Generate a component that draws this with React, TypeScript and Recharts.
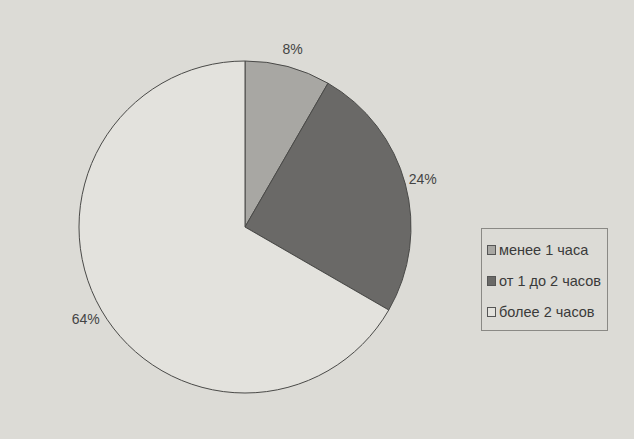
import React from 'react';
import { PieChart, Pie, Cell, Legend } from 'recharts';

const categories = ['менее 1 часа', 'от 1 до 2 часов', 'более 2 часов'];
const shares = [8, 24, 64];
const colors = ['#a8a7a3', '#6a6967', '#e3e2dd'];

const data = categories.map((name, i) => ({ name, value: shares[i] }));

const RAD = Math.PI / 180;

const renderLabel = (props: any) => {
  const { cx, cy, midAngle, outerRadius, value } = props;
  const r = outerRadius + 18;
  const x = cx + r * Math.cos(-midAngle * RAD);
  const y = cy + r * Math.sin(-midAngle * RAD);
  return (
    <text x={x} y={y} fill="#444" fontSize={14} textAnchor="middle" dominantBaseline="central">
      {value}%
    </text>
  );
};

const renderLegend = () => (
  <div
    style={{
      border: '1px solid #8a8985',
      padding: '5px 6px 3px 5px',
      fontSize: 14.5,
      color: '#3a3a3a',
      fontFamily: '"Liberation Sans", Arial, sans-serif',
      whiteSpace: 'nowrap',
    }}
  >
    {categories.map((c, i) => (
      <div key={c} style={{ display: 'flex', alignItems: 'center', height: 31 }}>
        <span
          style={{
            display: 'inline-block',
            width: 7,
            height: 8,
            background: colors[i],
            border: '1px solid #555',
            marginRight: 3,
          }}
        />
        {c}
      </div>
    ))}
  </div>
);

export default function App() {
  return (
    <div
      style={{
        position: 'absolute',
        left: 0,
        top: 0,
        width: 634,
        height: 439,
        background: '#dcdbd6',
        fontFamily: '"Liberation Sans", Arial, sans-serif',
      }}
    >
      <PieChart width={634} height={439}>
        <Pie
          data={data}
          dataKey="value"
          nameKey="name"
          cx={240}
          cy={222}
          outerRadius={166}
          startAngle={90}
          endAngle={-270}
          stroke="#4a4a48"
          strokeWidth={1}
          label={renderLabel}
          labelLine={false}
          isAnimationActive={false}
        >
          {data.map((d, i) => (
            <Cell key={d.name} fill={colors[i]} />
          ))}
        </Pie>
        <Legend
          content={renderLegend}
          layout="vertical"
          wrapperStyle={{ position: 'absolute', left: 481, top: 228, width: 'auto' }}
        />
      </PieChart>
    </div>
  );
}
